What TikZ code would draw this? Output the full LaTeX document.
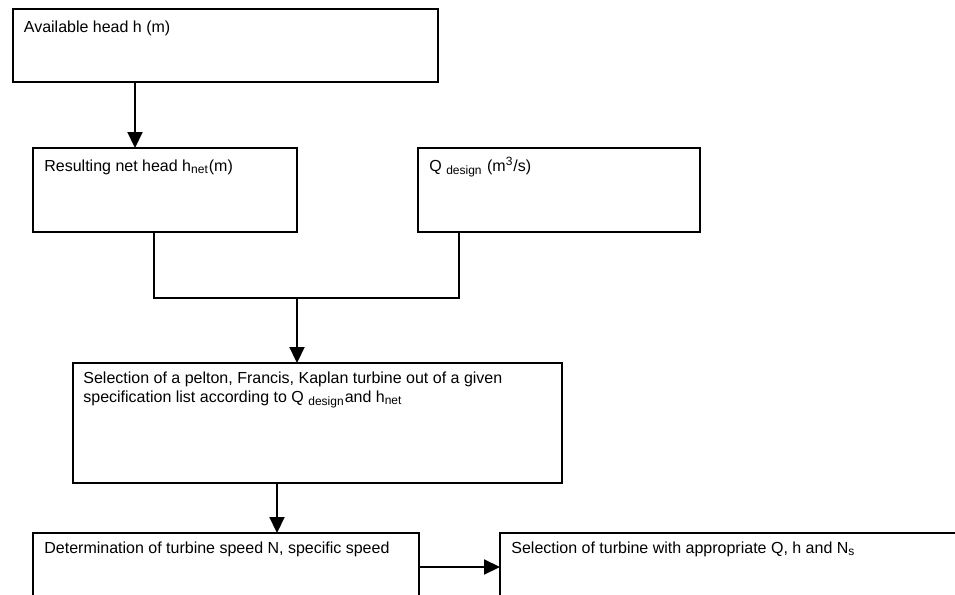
\documentclass[tikz,border=0pt]{standalone}
\usepackage{fontspec}
\setmainfont{Liberation Sans}
\usetikzlibrary{arrows.meta}
\begin{document}
\begin{tikzpicture}[x=0.5pt,y=-0.5pt,
  box/.style={draw, line width=1.1pt, rectangle, inner sep=0pt, outer sep=0pt, anchor=north west},
  lbl/.style={inner sep=0pt, anchor=base west, align=left, font=\fontsize{8}{9.5}\selectfont},
  link/.style={line width=1.1pt},
  arr/.style={line width=1.1pt, -{Triangle[length=8pt,width=7.5pt]}}]
  \useasboundingbox (0,0) rectangle (955,595);
  \clip (0,0) rectangle (955,595);

  % boxes (sizes in pt, half the drawing unit)
  \node[box, minimum width=212.5pt, minimum height=36.5pt] (b1) at (13,9) {};
  \node[box, minimum width=132pt, minimum height=42pt] (b2) at (33,148) {};
  \node[box, minimum width=141pt, minimum height=42pt] (b3) at (418,148) {};
  \node[box, minimum width=244.5pt, minimum height=60pt] (b4) at (73,363) {};
  \node[box, minimum width=193pt, minimum height=55pt] (b5) at (33,533) {};
  \node[box, minimum width=260pt, minimum height=55pt] (b6) at (500,533) {};

  % box texts (a two-line label sits on the baseline of its last line)
  \node[lbl] (t1) at (23.5,32) {Available head h (m)};
  \node[lbl] (t2) at (44,171) {Resulting net head h\textsubscript{net}(m)};
  \node[lbl] (t3) at (429,171) {Q \textsubscript{design} (m\textsuperscript{3}/s)};
  \node[lbl] (t4) at (83,402) {Selection of a pelton, Francis, Kaplan turbine out of a given\\
    specification list according to Q \textsubscript{design}and h\textsubscript{net}};
  \node[lbl] (t5) at (44,553) {Determination of turbine speed N, specific speed};
  \node[lbl] (t6) at (511,553) {Selection of turbine with appropriate Q, h and N\textsubscript{s}};

  % connector guide lines
  \coordinate (g1) at (135,0);
  \coordinate (g2) at (154,0);
  \coordinate (g3) at (459,0);
  \coordinate (g4) at (297,0);
  \coordinate (g5) at (277,0);
  \coordinate (jn) at (0,298);
  \coordinate (g6) at (0,567);

  \draw[arr] (g1 |- b1.south) -- (g1 |- b2.north);
  \draw[link] (g2 |- b2.south) -- (g2 |- jn) -- (g3 |- jn) -- (g3 |- b3.south);
  \draw[arr] (g4 |- jn) -- (g4 |- b4.north);
  \draw[arr] (g5 |- b4.south) -- (g5 |- b5.north);
  \draw[arr] (b5.east |- g6) -- (b6.west |- g6);
\end{tikzpicture}
\end{document}
